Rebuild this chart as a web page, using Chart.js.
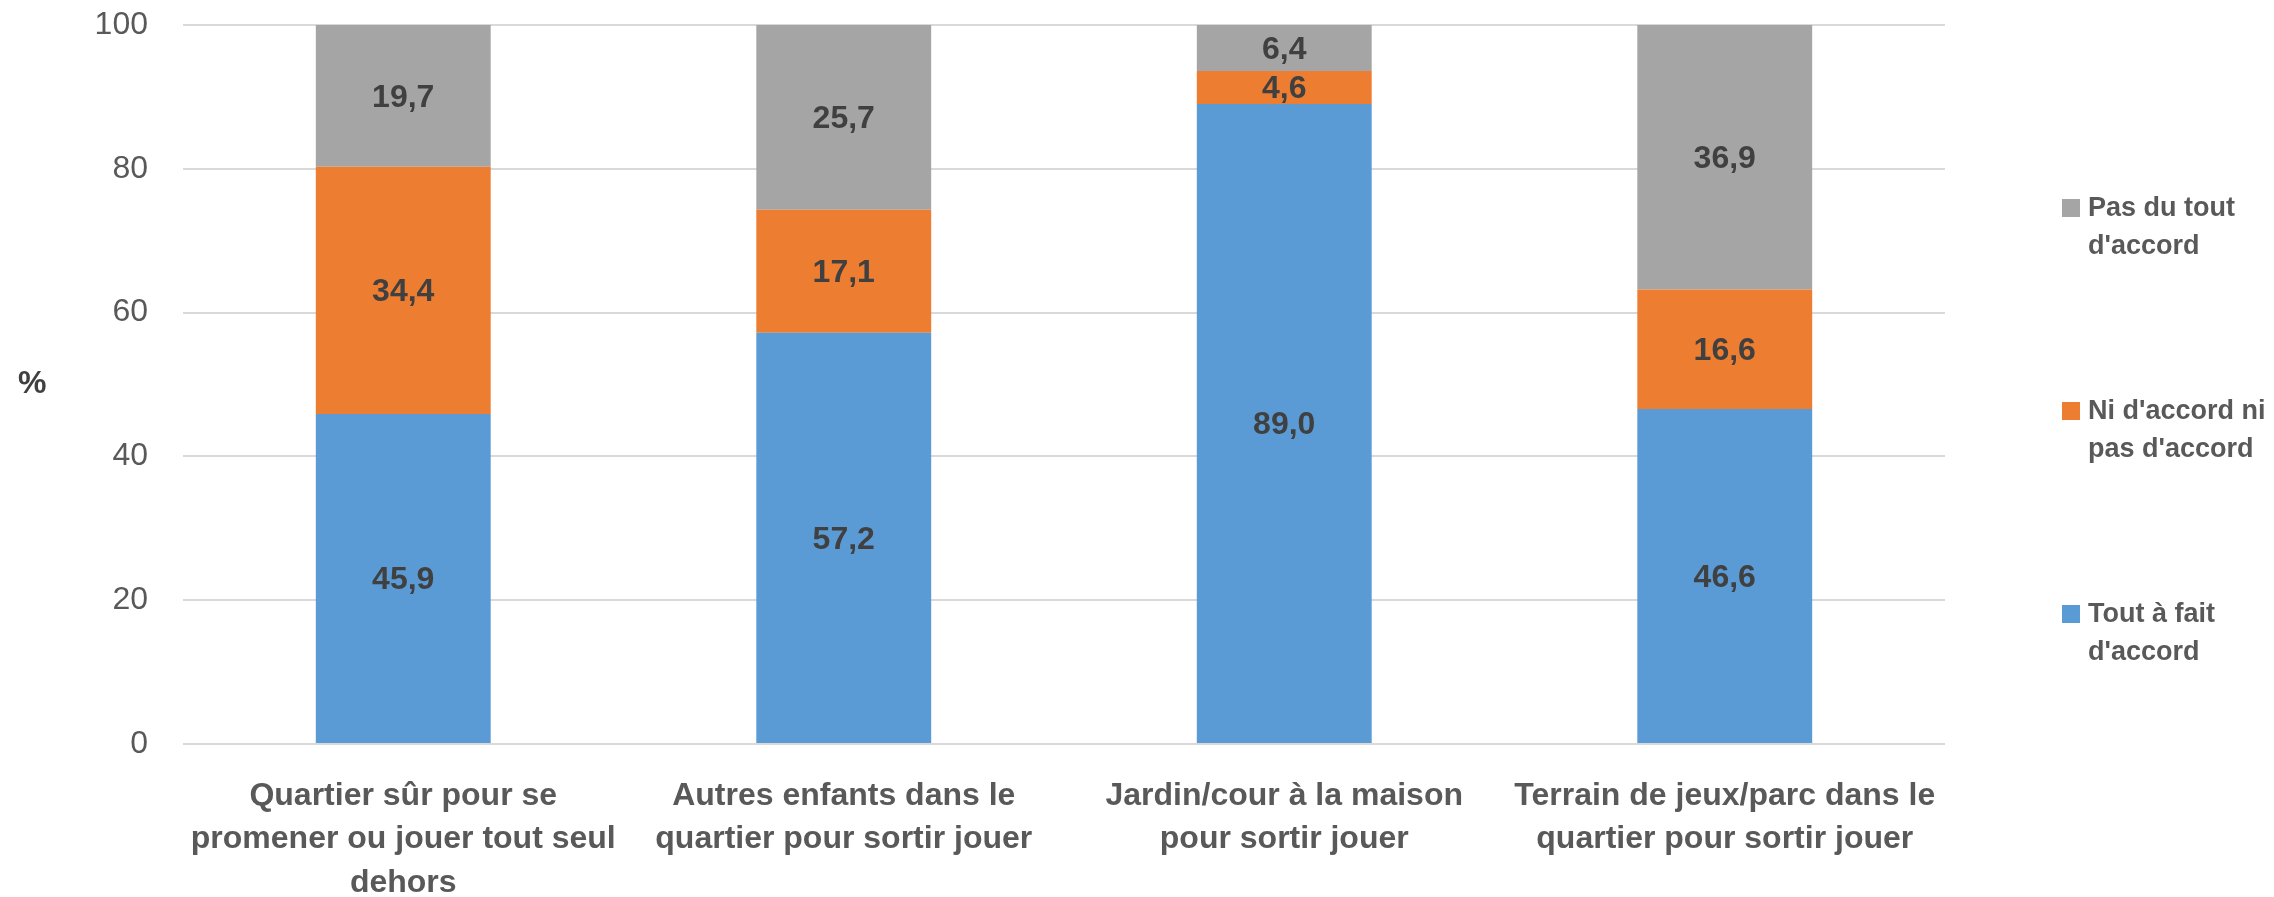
<!DOCTYPE html>
<html>
<head>
<meta charset="utf-8">
<script src="https://cdn.jsdelivr.net/npm/chart.js@4"></script>
<style>
  body { margin: 0; background: #fff; }
  #wrap { position: relative; width: 2274px; height: 897px; }
  .unit { position: absolute; left: 18px; top: 366px; font: bold 32px 'Liberation Sans'; line-height: 32px; color: #404040; }
  .leg { position: absolute; left: 2088px; font: bold 27px 'Liberation Sans'; line-height: 38px; color: #595959; }
  .sq { position: absolute; left: 2062px; width: 18px; height: 18px; }
</style>
</head>
<body>
<div id="wrap">
  <canvas id="myChart"></canvas>
  <div class="unit">%</div>
  <div id="legend"></div>
</div>
<script>
const categories = [
    ['Quartier sûr pour se', 'promener ou jouer tout seul', 'dehors'],
    ['Autres enfants dans le', 'quartier pour sortir jouer'],
    ['Jardin/cour à la maison', 'pour sortir jouer'],
    ['Terrain de jeux/parc dans le', 'quartier pour sortir jouer'],
];

const toutAFait = [45.9, 57.2, 89.0, 46.6];
const niNi = [34.4, 17.1, 4.6, 16.6];
const pasDuTout = [19.7, 25.7, 6.4, 36.9];

const seriesNames = [
    ["Tout à fait", "d'accord"],
    ["Ni d'accord ni", "pas d'accord"],
    ["Pas du tout", "d'accord"],
];
const colors = ['#5B9BD5', '#ED7D31', '#A5A5A5'];

const yTicks = [0, 20, 40, 60, 80, 100];

Chart.defaults.font.family = 'Liberation Sans';
Chart.defaults.color = '#595959';

// values written in the middle of each segment
const segmentLabels = {
    id: 'segmentLabels',
    afterDatasetsDraw(chart) {
        const ctx = chart.ctx;
        ctx.save();
        ctx.font = 'bold 32px Liberation Sans';
        ctx.fillStyle = '#404040';
        ctx.textAlign = 'center';
        ctx.textBaseline = 'middle';
        chart.data.datasets.forEach((ds, i) => {
            chart.getDatasetMeta(i).data.forEach((bar, j) => {
                const txt = ds.data[j].toFixed(1).replace('.', ',');
                ctx.fillText(txt, bar.x, (bar.y + bar.base) / 2 + 2);
            });
        });
        ctx.restore();
    }
};

function makeDataset(name, values, color) {
    return {
        label: name.join(' '),
        data: values,
        backgroundColor: color,
        borderWidth: 0,
        categoryPercentage: 1,
        barPercentage: 0.397,
    };
}

const ctx = document.getElementById('myChart');

const chart = new Chart(ctx, {
    type: 'bar',
    data: {
        labels: categories,
        datasets: [
            makeDataset(seriesNames[0], toutAFait, colors[0]),
            makeDataset(seriesNames[1], niNi, colors[1]),
            makeDataset(seriesNames[2], pasDuTout, colors[2]),
        ]
    },
    options: {
        responsive: true,
        maintainAspectRatio: false,
        animation: false,
        events: [],
        layout: { padding: { left: 0, right: 329, top: 25, bottom: 0 } },
        plugins: {
            legend: { display: false },
            tooltip: { enabled: false },
        },
        scales: {
            x: {
                stacked: true,
                grid: { display: false },
                border: { display: false },
                ticks: {
                    font: { size: 32, weight: 'bold', lineHeight: 1.36 },
                    color: '#595959',
                    maxRotation: 0,
                    autoSkip: false,
                    padding: 22,
                },
                afterFit(scale) {
                    scale.height = 153;
                    scale.paddingLeft = 0;
                    scale.paddingRight = 0;
                },
            },
            y: {
                stacked: true,
                min: 0,
                max: 100,
                afterBuildTicks(scale) { scale.ticks = yTicks.map(v => ({ value: v })); },
                grid: { color: '#D9D9D9', lineWidth: 2, drawTicks: false },
                border: { display: false },
                ticks: {
                    font: { size: 32 },
                    color: '#595959',
                    padding: 35,
                },
                afterFit(scale) {
                    scale.width = 183;
                    scale.paddingTop = 0;
                    scale.paddingBottom = 0;
                },
            }
        }
    },
    plugins: [segmentLabels],
});

// legend, top item is the last series
const legend = document.getElementById('legend');
const legendBaselines = [623, 420, 217];
seriesNames.forEach((name, i) => {
    const sq = document.createElement('div');
    sq.className = 'sq';
    sq.style.top = (legendBaselines[i] - 18) + 'px';
    sq.style.background = colors[i];
    legend.appendChild(sq);
    const t = document.createElement('div');
    t.className = 'leg';
    t.style.top = (legendBaselines[i] - 29) + 'px';
    t.innerHTML = name.join('<br>');
    legend.appendChild(t);
});
</script>
</body>
</html>
